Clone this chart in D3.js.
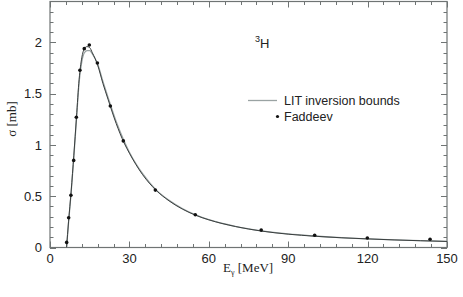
<!DOCTYPE html>
<html lang="en">
<head>
<meta charset="UTF-8">
<title>3H photodisintegration</title>
<script src="https://d3js.org/d3.v7.min.js"></script>
<style>
  body { margin: 0; background: #fff; }
  svg { display: block; }
  .tick-label { font-family: 'Liberation Sans', Arial, sans-serif; font-size: 13px; fill: #222; }
  .serif { font-family: 'Liberation Serif', 'Times New Roman', serif; fill: #222; }
</style>
</head>
<body>
<div id="chart"></div>
<script>
// LIT inversion bounds (two curves)
const litE = [6.26, 7, 8, 9, 10, 11, 12, 13, 14, 15, 16, 18, 20, 22, 25, 28, 30, 35, 40, 45, 50, 55, 60, 70, 80, 90, 100, 110, 120, 130, 140, 150];
const litUpper = [0, 0.25, 0.55, 0.9, 1.27, 1.64, 1.85, 1.94, 1.96, 1.95, 1.90, 1.78, 1.60, 1.44, 1.21, 1.02, 0.92, 0.71, 0.56, 0.455, 0.375, 0.315, 0.27, 0.205, 0.16, 0.13, 0.11, 0.095, 0.084, 0.074, 0.066, 0.059];
const litLower = [0, 0.24, 0.54, 0.88, 1.25, 1.61, 1.81, 1.90, 1.92, 1.92, 1.89, 1.79, 1.62, 1.46, 1.23, 1.04, 0.93, 0.72, 0.565, 0.46, 0.38, 0.318, 0.272, 0.207, 0.162, 0.132, 0.112, 0.096, 0.085, 0.075, 0.067, 0.06];

// Faddeev points
const fadE = [6.3, 7.05, 7.9, 8.95, 9.95, 11.3, 12.95, 14.85, 17.9, 22.8, 27.7, 39.8, 54.9, 79.8, 100, 119.9, 143.6];
const fadSigma = [0.05, 0.29, 0.51, 0.85, 1.27, 1.73, 1.94, 1.975, 1.80, 1.38, 1.04, 0.56, 0.32, 0.17, 0.12, 0.093, 0.08];

const xMajor = [0, 30, 60, 90, 120, 150];
const yMajor = [0, 0.5, 1, 1.5, 2];
const xLabels = ["0", "30", "60", "90", "120", "150"];
const yLabels = ["0", "0.5", "1", "1.5", "2"];

const width = 463, height = 297;
const margin = { top: 1.5, right: 16, bottom: 49.5, left: 50 };
const x0 = margin.left, x1 = width - margin.right;
const y0 = height - margin.bottom, y1 = margin.top;

const x = d3.scaleLinear().domain([0, 150]).range([x0, x1]);
const y = d3.scaleLinear().domain([0, 2.4]).range([y0, y1]);

const svg = d3.select("#chart").append("svg")
  .attr("width", width).attr("height", height);

const axisColor = "#6f7474";

// minor and major ticks, all pointing inward on four sides
const tk = svg.append("g").attr("stroke", axisColor).attr("stroke-width", 1);
d3.range(0, 151, 6).forEach(v => {
  const len = v % 30 === 0 ? 6 : 3.5;
  const px = Math.round(x(v)) + 0.5;
  tk.append("line").attr("x1", px).attr("x2", px).attr("y1", y0).attr("y2", y0 - len);
  tk.append("line").attr("x1", px).attr("x2", px).attr("y1", y1).attr("y2", y1 + len);
});
d3.range(0, 24).forEach(i => {
  const v = i / 10;
  const len = i % 5 === 0 ? 6 : 3.5;
  const py = Math.round(y(v)) + 0.5;
  tk.append("line").attr("x1", x0).attr("x2", x0 + len).attr("y1", py).attr("y2", py);
  tk.append("line").attr("x1", x1).attr("x2", x1 - len).attr("y1", py).attr("y2", py);
});

svg.append("rect")
  .attr("x", x0).attr("y", y1)
  .attr("width", x1 - x0).attr("height", y0 - y1)
  .attr("fill", "none").attr("stroke", axisColor).attr("stroke-width", 1.2);

// tick labels
svg.selectAll(".xl").data(xMajor).join("text")
  .attr("class", "tick-label")
  .attr("x", d => x(d)).attr("y", y0 + 15)
  .attr("text-anchor", "middle")
  .text((d, i) => xLabels[i]);

svg.selectAll(".yl").data(yMajor).join("text")
  .attr("class", "tick-label")
  .attr("x", x0 - 8).attr("y", d => y(d) + 4.5)
  .attr("text-anchor", "end")
  .text((d, i) => yLabels[i]);

// curves
const line = d3.line().x(d => x(d[0])).y(d => y(d[1])).curve(d3.curveMonotoneX);
svg.append("path")
  .datum(litE.map((e, i) => [e, litLower[i]]))
  .attr("d", line).attr("fill", "none")
  .attr("stroke", "#9aa3a3").attr("stroke-width", 1.3);
svg.append("path")
  .datum(litE.map((e, i) => [e, litUpper[i]]))
  .attr("d", line).attr("fill", "none")
  .attr("stroke", "#3a3f3f").attr("stroke-width", 1);

svg.selectAll(".fad").data(fadE).join("circle")
  .attr("cx", d => x(d))
  .attr("cy", (d, i) => y(fadSigma[i]))
  .attr("r", 1.8).attr("fill", "#111");

// legend
svg.append("line")
  .attr("x1", 248).attr("x2", 277).attr("y1", 100.5).attr("y2", 100.5)
  .attr("stroke", "#9aa3a3").attr("stroke-width", 1.3);
svg.append("text").attr("class", "tick-label").attr("x", 284).attr("y", 105)
  .style("font-size", "12.5px").text("LIT inversion bounds");
svg.append("circle").attr("cx", 277.5).attr("cy", 116.5).attr("r", 1.6).attr("fill", "#111");
svg.append("text").attr("class", "tick-label").attr("x", 284).attr("y", 121)
  .style("font-size", "12.5px").text("Faddeev");

// nucleus label
const nuc = svg.append("text").attr("class", "tick-label").attr("x", 255).attr("y", 48);
nuc.append("tspan").attr("dy", -6).style("font-size", "9px").text("3");
nuc.append("tspan").attr("dy", 6).style("font-size", "13px").text("H");

// axis titles
const xt = svg.append("text").attr("class", "serif").attr("x", 223).attr("y", 272).style("font-size", "13px");
xt.append("tspan").text("E");
xt.append("tspan").attr("dy", 3).style("font-size", "8px").text("γ");
xt.append("tspan").attr("dy", -3).text(" [MeV]");

svg.append("text").attr("class", "serif")
  .attr("transform", "translate(16,119) rotate(-90)")
  .attr("text-anchor", "middle")
  .style("font-size", "13px")
  .text("σ [mb]");
</script>
</body>
</html>
